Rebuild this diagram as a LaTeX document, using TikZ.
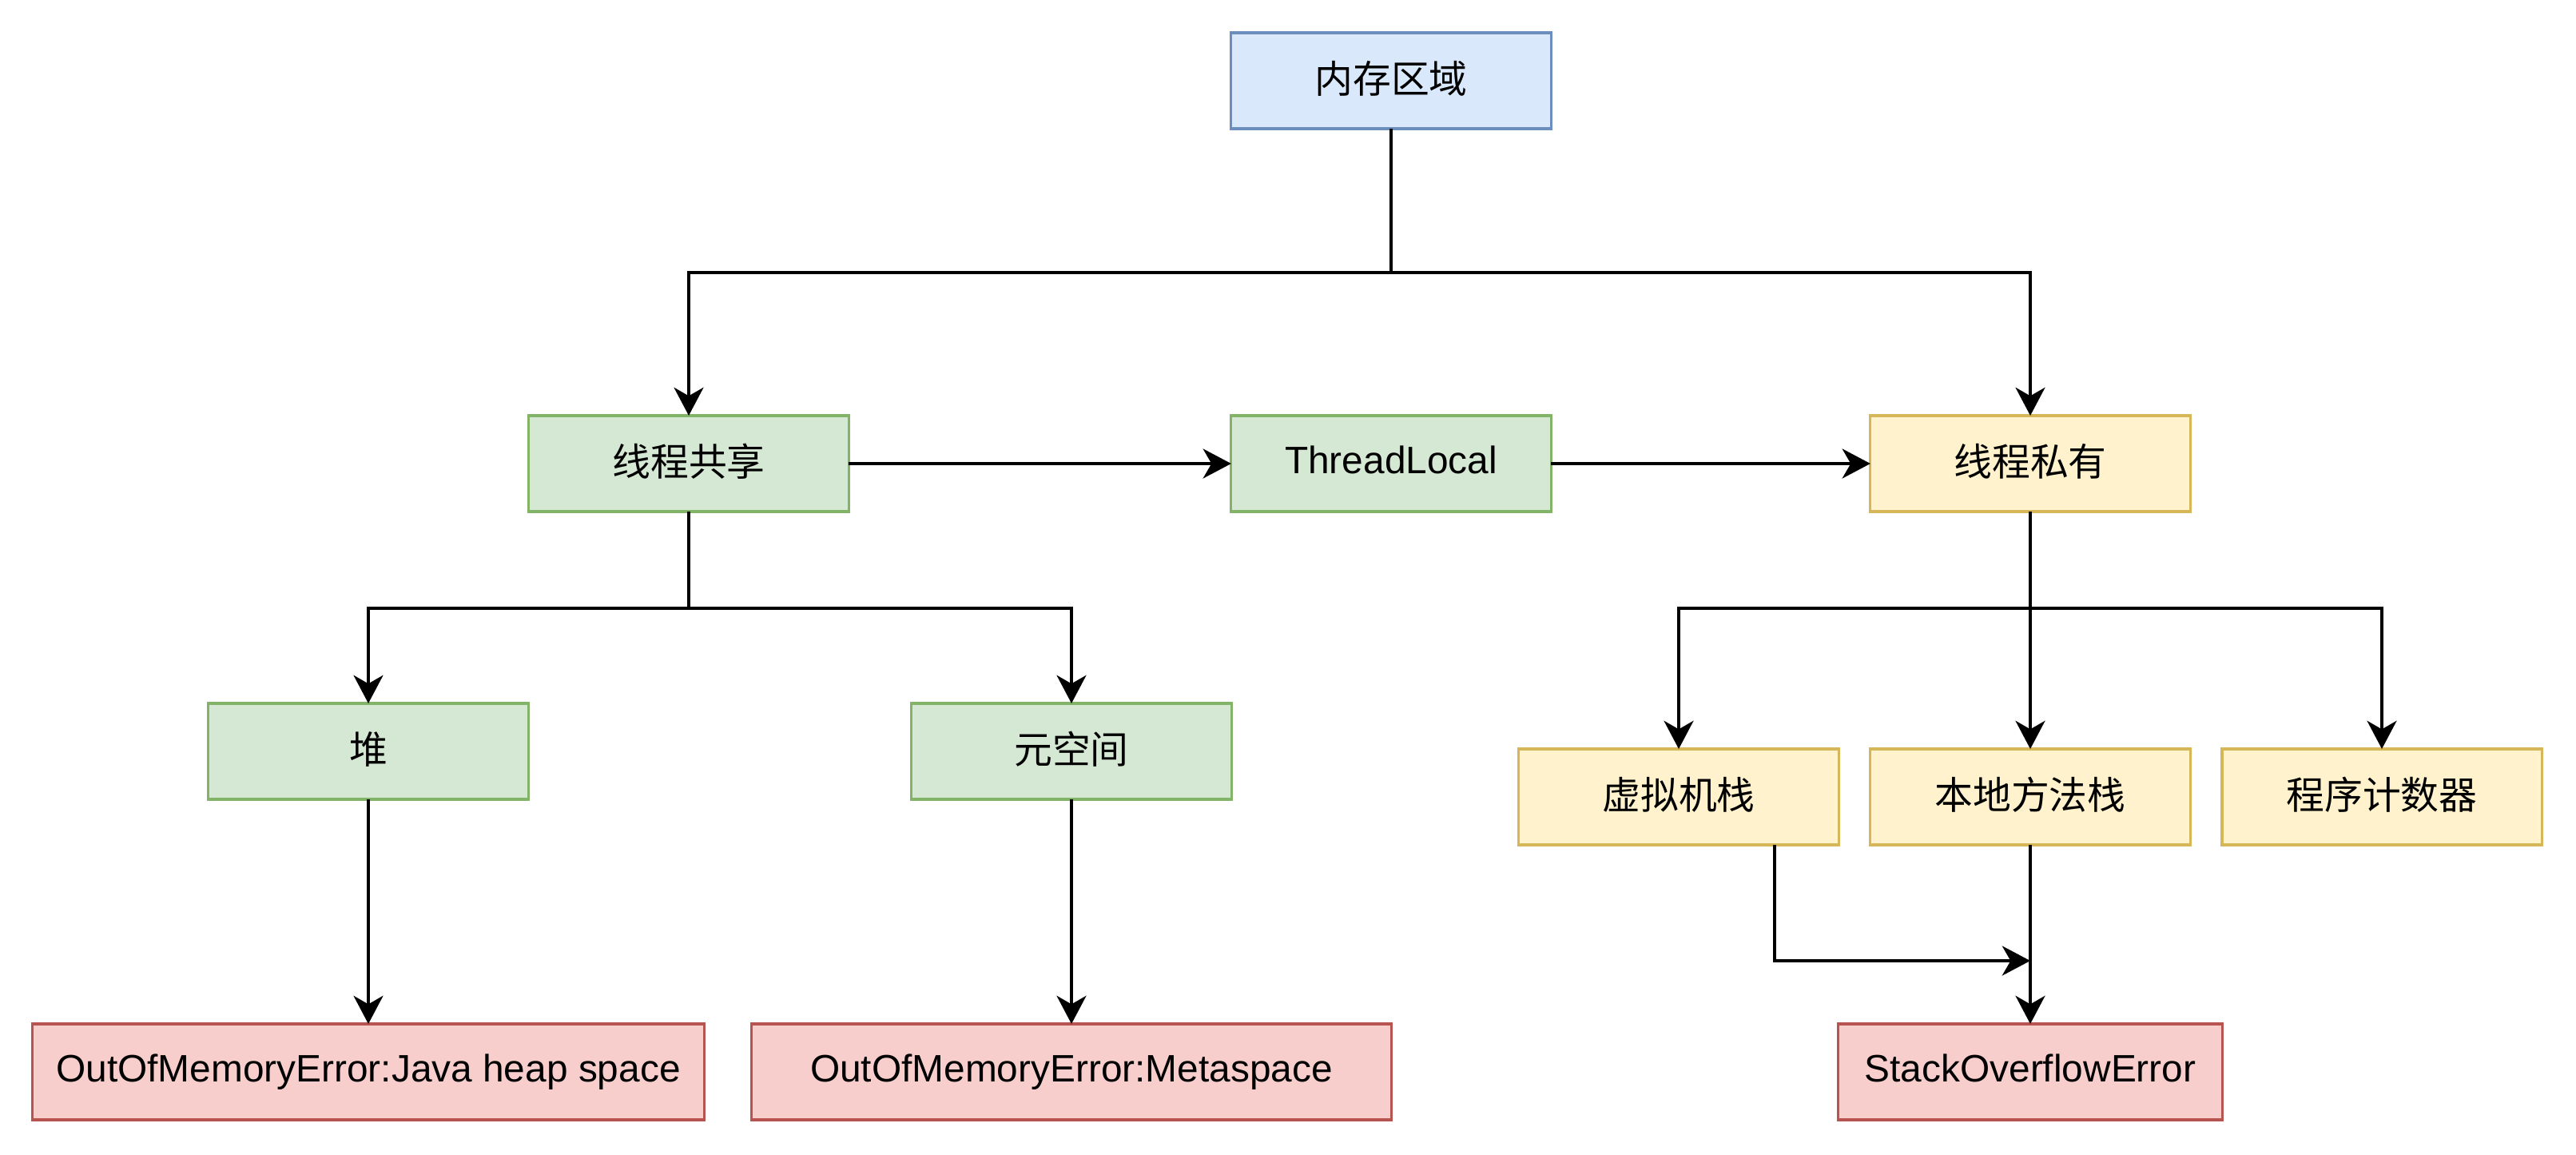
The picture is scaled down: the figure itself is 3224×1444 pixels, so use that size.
\documentclass[tikz,border=0pt]{standalone}
\usepackage{fontspec}
\setmainfont{Liberation Sans}
\newfontfamily\cjk{Noto Sans CJK SC}
\usetikzlibrary{arrows.meta}
\definecolor{blueF}{HTML}{DAE8FC}
\definecolor{blueD}{HTML}{6C8EBF}
\definecolor{greenF}{HTML}{D5E8D4}
\definecolor{greenD}{HTML}{82B366}
\definecolor{yellowF}{HTML}{FFF2CC}
\definecolor{yellowD}{HTML}{D6B656}
\definecolor{redF}{HTML}{F8CECC}
\definecolor{redD}{HTML}{B85450}
\begin{document}
\begin{tikzpicture}[x=0.01cm, y=-0.01cm, font=\fontsize{13.6}{16}\selectfont, >={Stealth[length=10pt,width=10.5pt,inset=3pt]},
	box/.style={draw, line width=0.9pt, minimum width=4cm, minimum height=1.2cm, inner sep=0pt, outer sep=0pt, text height=0.8em, text depth=0.1em},
	zh/.style={text height=0.9em, text depth=0em},
	blue box/.style={box, fill=blueF, draw=blueD},
	green box/.style={box, fill=greenF, draw=greenD},
	yellow box/.style={box, fill=yellowF, draw=yellowD},
	red box/.style={box, fill=redF, draw=redD},
	link/.style={line width=1.2pt}]
				\useasboundingbox (0,0) rectangle (3224,1444);
				%\draw[gray!10] (0,0) grid[step=100] (3224,1444);
				\node[blue box, zh] (M) at (1741,101) {\cjk 内存区域};
				\node[green box, zh] (S) at (862,580) {\cjk 线程共享};
				\node[green box] (T) at (1741,580) {ThreadLocal};
				\node[yellow box, zh] (P) at (2541,580) {\cjk 线程私有};
				\node[green box, zh] (H) at (461,940) {\cjk 堆};
				\node[green box, zh] (Y) at (1341,940) {\cjk 元空间};
				\node[yellow box, zh] (V) at (2101,997) {\cjk 虚拟机栈};
				\node[yellow box, zh] (N) at (2541,997) {\cjk 本地方法栈};
				\node[yellow box, zh] (C) at (2981,997) {\cjk 程序计数器};
				\node[red box, minimum width=8.41cm] (E1) at (461,1341) {OutOfMemoryError:Java heap space};
				\node[red box, minimum width=8cm] (E2) at (1341,1341) {OutOfMemoryError:Metaspace};
				\node[red box, minimum width=4.81cm] (E3) at (2541,1341) {StackOverflowError};
				\coordinate (J1) at (1741,341);
				\coordinate (J2) at (862,761);
				\coordinate (J3) at (2541,761);
				\coordinate (K1) at (2221,1202);
				\draw[link] (M)--(J1);
				\draw[link,->] (J1)-|(S);
				\draw[link,->] (J1)-|(P);
				\draw[link,->] (S)--(T);
				\draw[link,->] (T)--(P);
				\draw[link] (S)--(J2);
				\draw[link,->] (J2)-|(H);
				\draw[link,->] (J2)-|(Y);
				\draw[link,->] (P)--(N);
				\draw[link,->] (J3)-|(V);
				\draw[link,->] (J3)-|(C);
				\draw[link,->] (H)--(E1);
				\draw[link,->] (Y)--(E2);
				\draw[link,->] (N)--(E3);
				\draw[link,->] (V.south -| K1)--(K1)--(K1 -| N);
\end{tikzpicture}
\end{document}
